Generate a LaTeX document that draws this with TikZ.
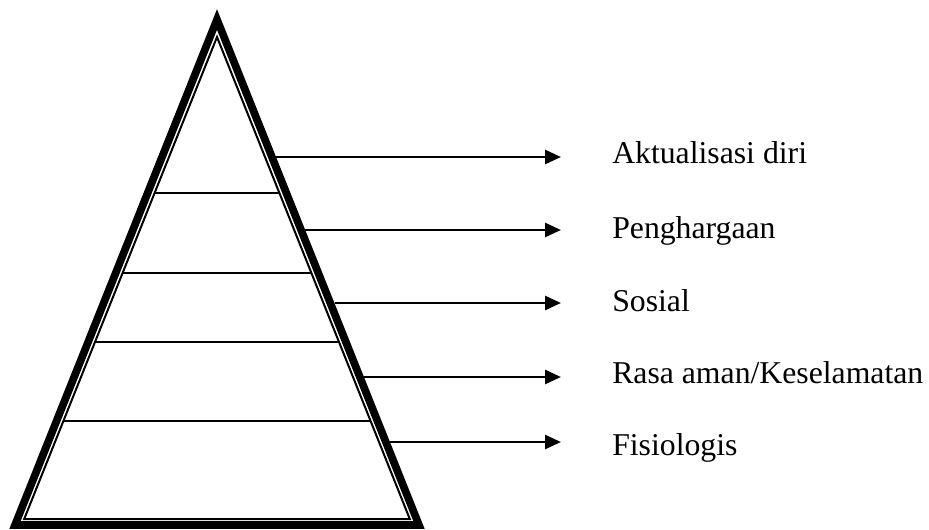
\documentclass[tikz,border=0pt]{standalone}
\usepackage{fontspec}
\setmainfont{Liberation Serif}
\usetikzlibrary{arrows.meta,positioning,calc}

\begin{document}
\begin{tikzpicture}[x=0.75pt,y=-0.75pt,
    level/.style={line width=1.25pt},
    pointer/.style={line width=2pt,-{Triangle[length=12pt,width=10.5pt]}},
    tag/.style={anchor=base west,inner sep=0pt,font=\fontsize{23.8}{28}\selectfont}]
    \useasboundingbox (0,0) rectangle (929,529);

    % Outer thick outline
    \coordinate (top) at (217,19.5);
    \coordinate (bl) at (15,525);
    \coordinate (br) at (419,525);
    \draw[line width=5.75pt] (top) -- (bl) -- (br) -- cycle;

    % Inner thin outline
    \coordinate (itop) at (217,37);
    \coordinate (ibl) at (24.2,519);
    \coordinate (ibr) at (409.8,519);
    \draw[line width=1.5pt] (itop) -- (ibl) -- (ibr) -- cycle;

    % Levels
    \foreach \y in {193,273,342,421} {
        \draw[level] ({217-0.4*(\y-37)},\y) -- ({217+0.4*(\y-37)},\y);
    }

    % Labels and arrows
    \foreach \k/\y/\b/\txt in {1/157/163/Aktualisasi diri, 2/230/238/Penghargaan,
        3/303/311/Sosial, 4/377/383/{Rasa aman/Keselamatan}, 5/442/455/Fisiologis} {
        \coordinate (s\k) at ({217+0.4*(\y-19)+4},\y);
        \coordinate (t\k) at (561,\y);
        \node[tag] (l\k) at (612,\b) {\txt};
        \draw[pointer] (s\k) -- (t\k);
    }

\end{tikzpicture}
\end{document}
